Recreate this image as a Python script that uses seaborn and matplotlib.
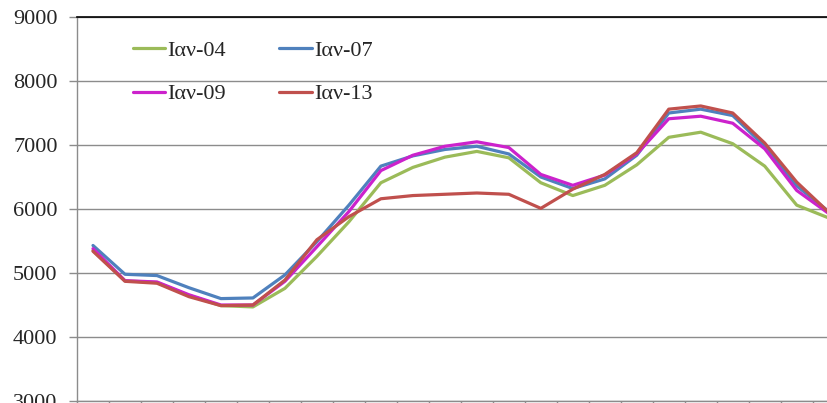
import numpy as np
import pandas as pd
import matplotlib
matplotlib.use("Agg")
import matplotlib.pyplot as plt
import seaborn as sns

hours = list(range(1, 25))
series_names = ["Iαν-04", "Iαν-07", "Iαν-09", "Iαν-13"]

iav_04 = [5350, 4880, 4850, 4650, 4490, 4470, 4760, 5260, 5800, 6410, 6650, 6810,
          6900, 6800, 6410, 6210, 6370, 6690, 7120, 7200, 7020, 6670, 6060, 5860]
iav_07 = [5430, 4980, 4960, 4770, 4600, 4610, 4970, 5490, 6060, 6670, 6830, 6930,
          6980, 6860, 6500, 6320, 6470, 6840, 7500, 7560, 7460, 6980, 6360, 5960]
iav_09 = [5380, 4880, 4860, 4660, 4500, 4500, 4870, 5410, 5960, 6600, 6840, 6980,
          7050, 6960, 6540, 6370, 6530, 6860, 7410, 7450, 7340, 6940, 6290, 5930]
iav_13 = [5340, 4870, 4840, 4630, 4490, 4500, 4890, 5520, 5880, 6160, 6210, 6230,
          6250, 6230, 6010, 6310, 6540, 6880, 7560, 7610, 7500, 7030, 6420, 5950]

colors = ["#9BBB59", "#4F81BD", "#CC22CC", "#C0504D"]

df = pd.DataFrame({
    "hour": hours * 4,
    "load": iav_04 + iav_07 + iav_09 + iav_13,
    "series": np.repeat(series_names, len(hours)),
})

sns.set_style("white")
plt.rcParams["font.family"] = ["Liberation Serif", "DejaVu Serif"]

fig = plt.figure(figsize=(8.27, 4.03), dpi=100)
ax = fig.add_axes([77 / 827, 2 / 403, (844.7 - 77) / 827, (401 - 17) / 403])

sns.lineplot(data=df, x="hour", y="load", hue="series", hue_order=series_names,
             palette=colors, linewidth=2.3, ax=ax, legend=False)

ax.set_xlim(0.5, 24.5)
ax.set_ylim(3000, 9000)
ax.set_yticks(np.arange(3000, 9001, 1000))
ax.set_xticks(np.arange(0.5, 24.6, 1))
ax.set_xticklabels([])
ax.set_xlabel("")
ax.set_ylabel("")

ax.grid(axis="y", color="#8c8c8c", linewidth=1.0)
ax.set_axisbelow(True)
for side in ["left", "bottom"]:
    ax.spines[side].set_color("#8c8c8c")
    ax.spines[side].set_linewidth(1.0)
ax.spines["right"].set_visible(False)
ax.spines["top"].set_color("black")
ax.spines["top"].set_linewidth(1.2)

ax.tick_params(axis="y", length=6, width=1, color="#8c8c8c", pad=8,
               labelsize=16, left=True)
ax.tick_params(axis="x", length=5, width=1, color="#8c8c8c", bottom=True,
               direction="out")

# legend rows: (04, 07) then (09, 13); matplotlib fills columns first
handles = [plt.Line2D([], [], color=c, linewidth=2.3) for c in colors]
order = [0, 2, 1, 3]
ax.legend([handles[i] for i in order], [series_names[i] for i in order],
          ncol=2, frameon=False, loc="upper left",
          bbox_to_anchor=(133 / 827, 1 - 40 / 403), bbox_transform=fig.transFigure,
          fontsize=16, handlelength=1.45, handletextpad=0.1, columnspacing=2.4,
          labelspacing=1.05, borderpad=0, borderaxespad=0)

fig.savefig("out.png", dpi=100)
